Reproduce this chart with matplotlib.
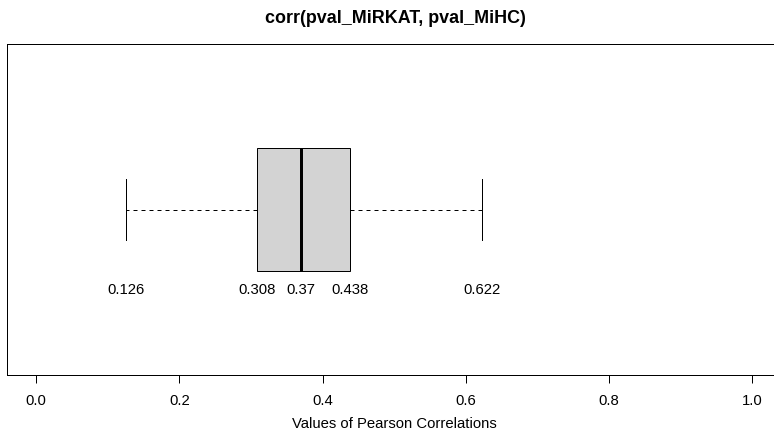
import matplotlib
matplotlib.use('Agg')
import matplotlib.pyplot as plt

# five-number summary of the correlations
stat_names = ['whislo', 'q1', 'med', 'q3', 'whishi']
stat_values = [0.126, 0.308, 0.37, 0.438, 0.622]
stat_labels = ['0.126', '0.308', '0.37', '0.438', '0.622']
x_ticks = [0.0, 0.2, 0.4, 0.6, 0.8, 1.0]
x_ticklabels = ['0.0', '0.2', '0.4', '0.6', '0.8', '1.0']

plt.rcParams['font.family'] = ['Liberation Sans', 'DejaVu Sans']
fs = 10.7
px = 72.0 / 100  # one pixel in points

W, H = 774, 439
fig = plt.figure(figsize=(W / 100, H / 100), dpi=100)
# R pads the range by 4%; the right edge of the frame falls off the image
x0, unit = 36.0, 716.5
lo, hi = -0.04, 1.08
left, right, top, bottom = x0 + lo * unit, x0 + hi * unit, 45, 376
ax = fig.add_axes([left / W, (H - bottom) / H, (right - left) / W, (bottom - top) / H])

stats = dict(zip(stat_names, stat_values))
stats['fliers'] = []
ax.bxp([stats], positions=[1], widths=0.4, vert=False, patch_artist=True,
       boxprops=dict(facecolor='#d3d3d3', edgecolor='black', linewidth=px),
       medianprops=dict(color='black', linewidth=3 * px, solid_capstyle='butt'),
       whiskerprops=dict(color='black', linewidth=px, linestyle=(0, (4, 4))),
       capprops=dict(color='black', linewidth=px), capwidths=0.2, showfliers=False)

for v, lab in zip(stat_values, stat_labels):
    ax.text(v, 0.74, lab, ha='center', va='center', fontsize=fs)

ax.set_xlim(lo, hi)
ax.set_ylim(0.46, 1.54)
ax.set_yticks([])
ax.set_xticks(x_ticks)
ax.set_xticklabels(x_ticklabels, fontsize=fs)
ax.tick_params(axis='x', length=8 * px, width=px, pad=7.5, direction='out')
for s in ax.spines.values():
    s.set_linewidth(px)
ax.spines['right'].set_visible(False)

fig.text(395 / W, 1 - 23 / H, 'corr(pval_MiRKAT, pval_MiHC)', ha='center', va='baseline',
         fontsize=fs * 1.2, fontweight='bold')
fig.text(394 / W, 1 - 424 / H, 'Values of Pearson Correlations', ha='center', va='center',
         fontsize=fs)

fig.savefig('out.png', dpi=100)
